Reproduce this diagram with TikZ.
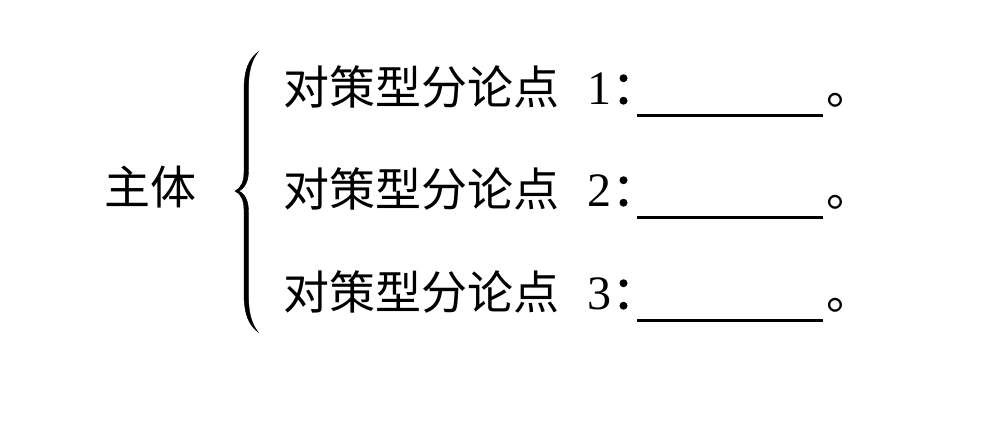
\documentclass[tikz,border=0pt]{standalone}
\usepackage{fontspec}
\newfontfamily\cjk{Noto Sans CJK SC}
\newfontfamily\cjkb[FakeBold=2]{Noto Sans CJK SC}
\newfontfamily\numf{Liberation Serif}
\begin{document}
\begin{tikzpicture}[x=1pt,y=-1pt,
  cjkt/.style={inner sep=0pt,outer sep=0pt,anchor=base west,font=\cjk\fontsize{46}{46}\selectfont},
  colt/.style={inner sep=0pt,outer sep=0pt,anchor=base west,font=\cjkb\fontsize{46}{46}\selectfont},
  numt/.style={inner sep=0pt,outer sep=0pt,anchor=base west,font=\numf\fontsize{48}{48}\selectfont},
  blank/.style={line width=3pt},
  brace/.style={fill=black,draw=black,line width=0.4pt}]
\useasboundingbox (0,0) rectangle (1008,432);
% main label
\node[cjkt] (main) at (104,204) {主体};
% brace
\path[brace] (258,52) .. controls (250,58) and (244,68) .. (244,90) -- (244,172)
  .. controls (244,182) and (241,188) .. (235,191)
  .. controls (241,194) and (244,200) .. (244,210) -- (244,294)
  .. controls (244,316) and (250,326) .. (258,332)
  .. controls (252,324) and (248.5,314) .. (248.5,296) -- (248.5,212)
  .. controls (248.5,202) and (246,195) .. (239,191)
  .. controls (246,187) and (248.5,180) .. (248.5,170) -- (248.5,88)
  .. controls (248.5,70) and (252,60) .. (258,52) -- cycle;
% rows
\foreach \i/\y in {1/104,2/206,3/309}{
  \node[cjkt] (t\i) at (283,\y) {对策型分论点};
  \node[numt] (n\i) at (587,\y) {\i};
  \node[colt] (c\i) at ([xshift=1pt]n\i.base east) {：};
  \coordinate (a\i) at (637,\y+11);
  \coordinate (b\i) at (823,\y+11);
  \draw[blank] (a\i) -- (b\i);
  \node[cjkt] (p\i) at (826,\y) {。};
}
\end{tikzpicture}
\end{document}
